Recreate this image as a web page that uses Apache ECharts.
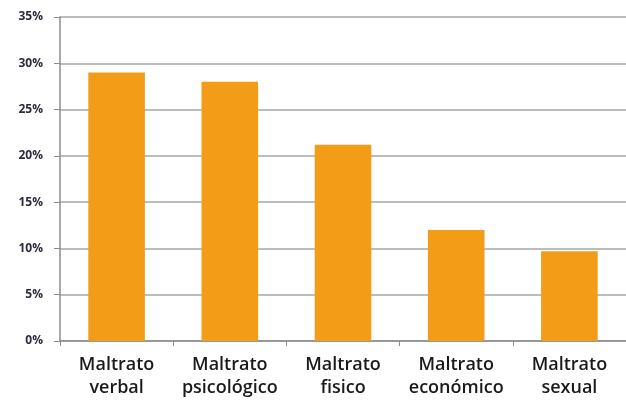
<!DOCTYPE html>
<html>
<head>
<meta charset="utf-8">
<script src="https://cdn.jsdelivr.net/npm/echarts@6/dist/echarts.min.js"></script>
<style>
  html, body { margin: 0; padding: 0; background: #fff; }
  #chart { width: 626px; height: 402px; }
</style>
</head>
<body>
<div id="chart"></div>
<script>
// Tipos de maltrato y porcentaje de casos
const categories = ['Maltrato\nverbal', 'Maltrato\npsicológico', 'Maltrato\nfisico', 'Maltrato\neconómico', 'Maltrato\nsexual'];
const values = [29, 28, 21.2, 12, 9.7];
const yTicks = [0, 5, 10, 15, 20, 25, 30, 35];

const chart = echarts.init(document.getElementById('chart'));
chart.setOption({
  animation: false,
  grid: { left: 60, top: 17, width: 572, height: 324, containLabel: false },
  xAxis: {
    type: 'category',
    data: categories,
    axisLine: { lineStyle: { color: '#8c8c8c', width: 1.5 } },
    axisTick: { show: true, length: 5, lineStyle: { color: '#8c8c8c' } },
    axisLabel: {
      color: '#1a1a1a', fontFamily: 'Open Sans', fontSize: 18, fontWeight: 600,
      lineHeight: 22.5, margin: 13, interval: 0
    }
  },
  yAxis: {
    type: 'value',
    min: yTicks[0], max: yTicks[yTicks.length - 1], interval: 5,
    axisLine: { show: true, lineStyle: { color: '#8c8c8c', width: 1.5 } },
    axisTick: { show: true, inside: false, length: 6, lineStyle: { color: '#8c8c8c' } },
    splitLine: { lineStyle: { color: '#a6a6a6', width: 1.5 } },
    axisLabel: {
      color: '#2b2b3a', fontFamily: 'Open Sans', fontSize: 12, fontWeight: 'bold',
      margin: 17, formatter: v => v + '%'
    }
  },
  series: [{
    type: 'bar',
    data: values,
    barWidth: '50%',
    itemStyle: { color: '#F39C17' }
  }]
});
</script>
</body>
</html>
